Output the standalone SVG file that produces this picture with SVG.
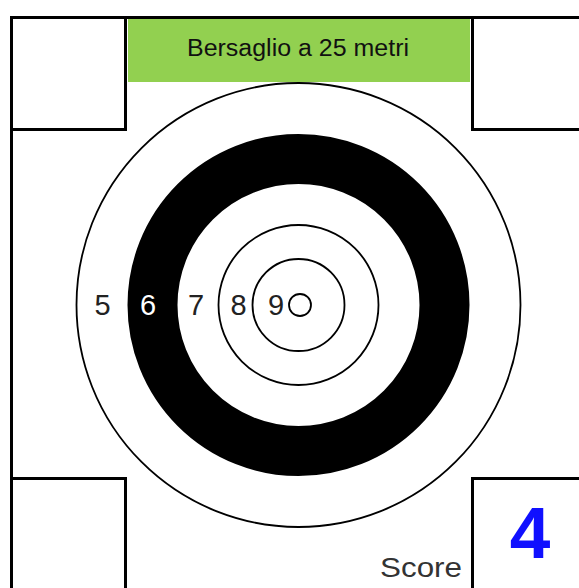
<svg xmlns="http://www.w3.org/2000/svg" width="579" height="588" viewBox="0 0 579 588">
<style>
.frame{fill:none;stroke:#000;stroke-width:3}
.ring{fill:none;stroke:#000;stroke-width:1.8}
.num{font-family:"Liberation Sans",Arial,sans-serif;font-size:29px;fill:#222;text-anchor:middle}
</style>
<rect width="579" height="588" fill="#fff"/>
<g id="frame">
<line class="frame" x1="11.5" y1="16" x2="11.5" y2="590"/>
<line class="frame" x1="10" y1="17.5" x2="590" y2="17.5"/>
</g>
<g id="corner-tl"><rect class="frame" x="11.5" y="17.5" width="114" height="112"/></g>
<g id="corner-tr"><rect class="frame" x="472.5" y="17.5" width="120" height="112"/></g>
<g id="corner-bl"><rect class="frame" x="11.5" y="478.5" width="114" height="120"/></g>
<g id="corner-br"><rect class="frame" x="472.5" y="478.5" width="120" height="120"/></g>
<g id="target">
<circle class="ring" cx="298.5" cy="305" r="222"/>
<circle cx="298.5" cy="305" r="146" fill="none" stroke="#000" stroke-width="50"/>
<circle class="ring" cx="298.5" cy="305" r="80"/>
<circle class="ring" cx="298.5" cy="305" r="46"/>
<circle class="ring" cx="300" cy="305" r="11"/>
<text class="num" x="102.5" y="315">5</text>
<text class="num" x="148" y="315" style="fill:#fff">6</text>
<text class="num" x="196" y="315">7</text>
<text class="num" x="238.5" y="315">8</text>
<text class="num" x="276" y="315">9</text>
</g>
<g id="title">
<rect x="128" y="19" width="342" height="63" fill="#92d050"/>
<text x="298" y="55.5" font-family="Liberation Sans, Arial, sans-serif" font-size="23" fill="#111" text-anchor="middle" textLength="222" lengthAdjust="spacingAndGlyphs">Bersaglio a 25 metri</text>
</g>
<g id="score">
<text x="421" y="577" font-family="Liberation Sans, Arial, sans-serif" font-size="28" fill="#333" text-anchor="middle" textLength="82" lengthAdjust="spacingAndGlyphs">Score</text>
<text x="530" y="558" font-family="Liberation Sans, Arial, sans-serif" font-size="73" font-weight="bold" fill="#1010ff" text-anchor="middle">4</text>
</g>
</svg>
